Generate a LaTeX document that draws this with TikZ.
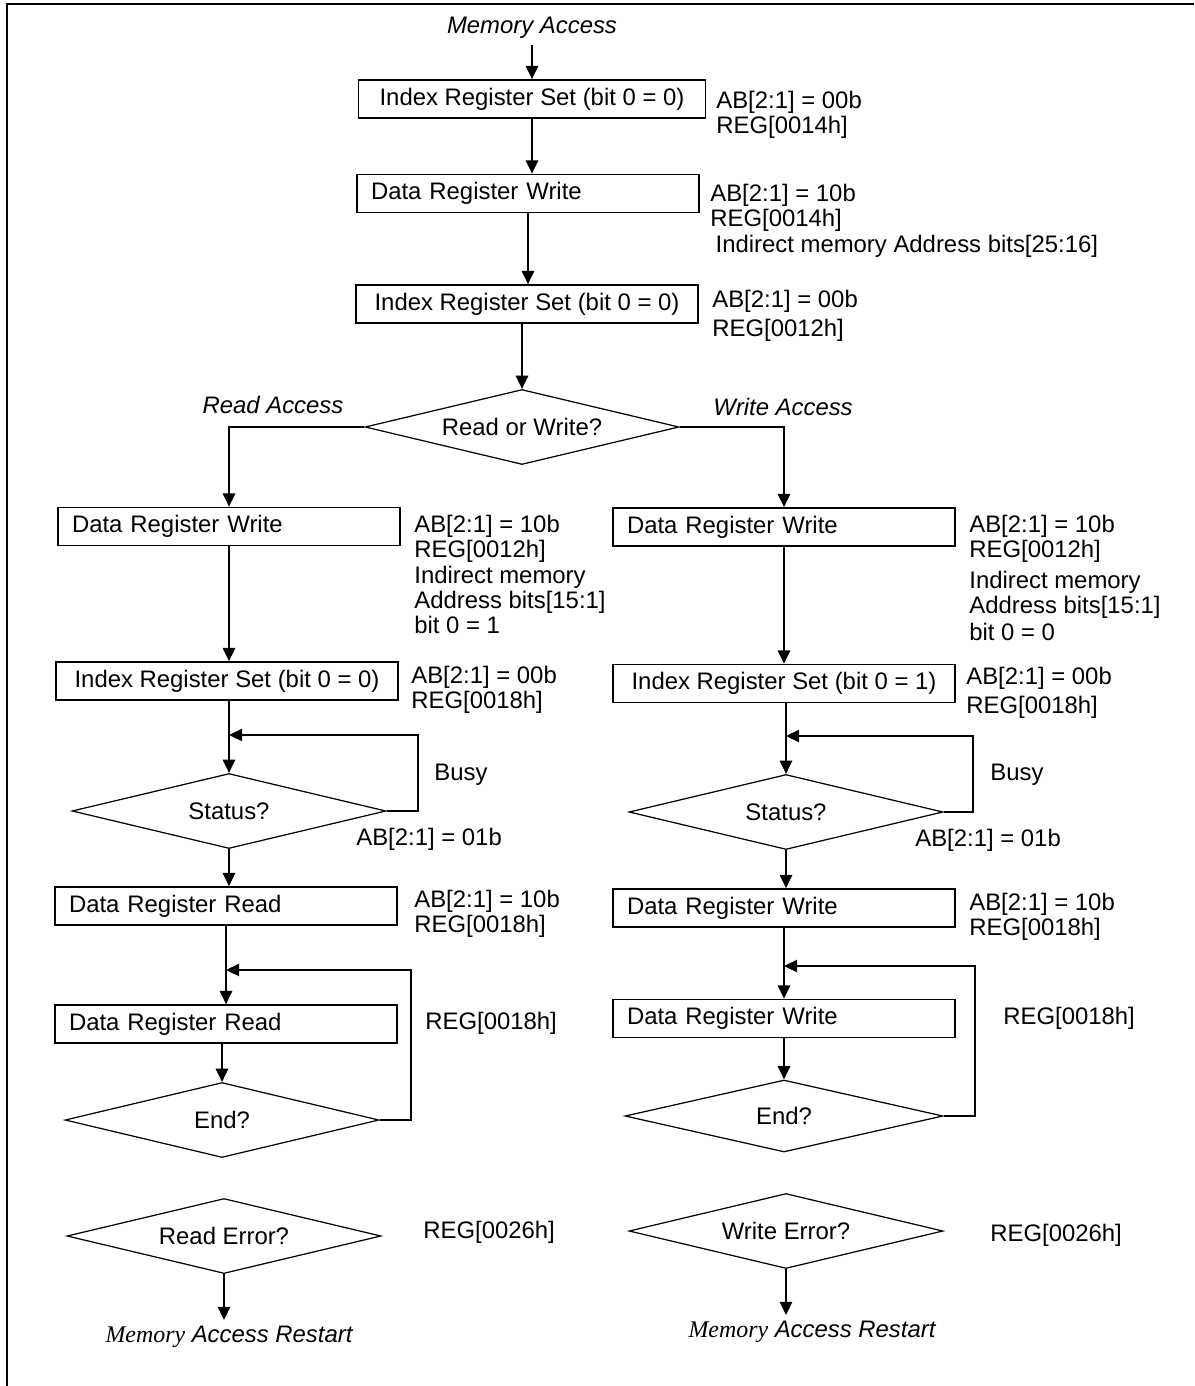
\documentclass[tikz,border=0pt]{standalone}
\usepackage{fontspec}
\setmainfont{Liberation Sans}
\newfontfamily\serifit{Liberation Serif}
\usetikzlibrary{shapes.geometric, arrows.meta, positioning}
\newcommand{\flowfont}{\fontsize{13.6}{14.4}\selectfont}
\tikzset{
    regbox/.style={
        draw=black,
        line width=1pt,
        minimum width=6.84cm,
        minimum height=0.76cm,
        inner sep=0pt,
        font=\flowfont,
        align=center
    },
    databox/.style={
        regbox,
        text width=6.28cm,
        inner xsep=0.28cm,
        align=left
    },
    decision/.style={
        diamond,
        draw=black,
        line width=0.7pt,
        aspect=4.2,
        inner sep=0pt,
        minimum width=6.28cm,
        minimum height=1.5cm,
        font=\flowfont
    },
    note/.style={
        anchor=north west,
        inner sep=0pt,
        font=\flowfont,
        align=left
    },
    caption/.style={
        font=\flowfont\itshape
    },
    arrow/.style={
        -{Triangle[length=7.5pt, width=7pt]},
        line width=1pt,
        black
    }
}

\begin{document}
\begin{tikzpicture}[x=0.02cm, y=-0.02cm]
        \useasboundingbox (0,0) rectangle (1194,1386);
        % Frame
        \draw[line width=1pt] (7,1386) -- (7,4) -- (1194,4);

        % Common part
        \node[caption] (start) at (532,28) {Memory Access};
        \node[regbox, minimum width=6.94cm] (set1) at (532,99) {Index Register Set (bit 0 = 0)};
        \node[note] at (716,91) {AB[2:1] = 00b\\REG[0014h]};
        \node[databox] (wr1) at (528,193.5) {Data Register Write};
        \node[note] at (710,184) {AB[2:1] = 10b\\REG[0014h]\\\hspace*{3pt}Indirect memory Address bits[25:16]};
        \node[regbox] (set2) at (527,304) {Index Register Set (bit 0 = 0)};
        \node[note] at (712,290) {AB[2:1] = 00b\\[2pt]REG[0012h]};

        \draw[arrow] (start.south) -- (start.south |- set1.north);
        \draw[arrow] (set1.south) -- (set1.south |- wr1.north);
        \draw[arrow] (wr1.south) -- (wr1.south |- set2.north);

        % Branch
        \node[decision] (rw) at (522,427) {Read or Write?};
        \node[caption] (readlbl) at (273,405) {Read Access};
        \node[caption] (writelbl) at (783,407) {Write Access};
        \draw[arrow] (rw.north |- set2.south) -- (rw.north);

        % Read access
        \node[databox] (rdaddr) at (229,526.5) {Data Register Write};
        \node[note] at (414,515) {AB[2:1] = 10b\\REG[0012h]\\Indirect memory\\Address bits[15:1]\\bit 0 = 1};
        \node[regbox] (rdset) at (227,681) {Index Register Set (bit 0 = 0)};
        \node[note] at (411,666) {AB[2:1] = 00b\\REG[0018h]};
        \node[decision] (rdstat) at (229,811) {Status?};
        \coordinate (rdbusy) at (418,735);
        \node[note] at (434,764) {Busy};
        \node[note] at (356,828) {AB[2:1] = 01b};
        \node[databox] (rdfirst) at (226,906) {Data Register Read};
        \node[note] at (414,890) {AB[2:1] = 10b\\REG[0018h]};
        \node[databox] (rdnext) at (226,1024) {Data Register Read};
        \node[note] at (425,1012) {REG[0018h]};
        \node[decision] (rdend) at (222,1120) {End?};
        \coordinate (rdloop) at (411,970);
        \node[decision] (rderr) at (224,1236) {Read Error?};
        \node[note] at (423,1221) {REG[0026h]};
        \node[font=\flowfont] (rdrestart) at (229,1337) {{\serifit\itshape Memory} {\itshape Access Restart}};

        \draw[arrow] (rw.west) -| (rdaddr.north);
        \draw[arrow] (rdaddr.south) -- (rdaddr.south |- rdset.north);
        \draw[arrow] (rdstat.north |- rdset.south) -- (rdstat.north);
        \draw[arrow] (rdstat.east) -| (rdbusy) -- (rdbusy -| rdstat.north);
        \draw[arrow] (rdstat.south) -- (rdstat.south |- rdfirst.north);
        \draw[arrow] (rdfirst.south) -- (rdfirst.south |- rdnext.north);
        \draw[arrow] (rdend.north |- rdnext.south) -- (rdend.north);
        \draw[arrow] (rdend.east) -| (rdloop) -- (rdloop -| rdnext.north);
        \draw[arrow] (rderr.south) -- (rderr.south |- rdrestart.north);

        % Write access
        \node[databox] (wraddr) at (784,527) {Data Register Write};
        \node[note] at (969,515) {AB[2:1] = 10b\\REG[0012h]\\[3pt]Indirect memory\\Address bits[15:1]\\[1pt]bit 0 = 0};
        \node[regbox] (wrset) at (784,683.5) {Index Register Set (bit 0 = 1)};
        \node[note] at (966,667) {AB[2:1] = 00b\\[2pt]REG[0018h]};
        \node[decision] (wrstat) at (786,812) {Status?};
        \coordinate (wrbusy) at (973,736);
        \node[note] at (990,764) {Busy};
        \node[note] at (915,829) {AB[2:1] = 01b};
        \node[databox] (wrfirst) at (784,908) {Data Register Write};
        \node[note] at (969,893) {AB[2:1] = 10b\\REG[0018h]};
        \node[databox] (wrnext) at (784,1018.5) {Data Register Write};
        \node[note] at (1003,1007) {REG[0018h]};
        \node[decision, minimum width=6.36cm, minimum height=1.44cm] (wrend) at (784,1116) {End?};
        \coordinate (wrloop) at (975,966);
        \node[decision] (wrerr) at (786,1231) {Write Error?};
        \node[note] at (990,1224) {REG[0026h]};
        \node[font=\flowfont] (wrrestart) at (812,1332) {{\serifit\itshape Memory} {\itshape Access Restart}};

        \draw[arrow] (rw.east) -| (wraddr.north);
        \draw[arrow] (wraddr.south) -- (wraddr.south |- wrset.north);
        \draw[arrow] (wrstat.north |- wrset.south) -- (wrstat.north);
        \draw[arrow] (wrstat.east) -| (wrbusy) -- (wrbusy -| wrstat.north);
        \draw[arrow] (wrstat.south) -- (wrstat.south |- wrfirst.north);
        \draw[arrow] (wrfirst.south) -- (wrfirst.south |- wrnext.north);
        \draw[arrow] (wrend.north |- wrnext.south) -- (wrend.north);
        \draw[arrow] (wrend.east) -| (wrloop) -- (wrloop -| wrnext.north);
        \draw[arrow] (wrerr.south) -- (wrerr.south |- wrrestart.north);
\end{tikzpicture}
\end{document}
